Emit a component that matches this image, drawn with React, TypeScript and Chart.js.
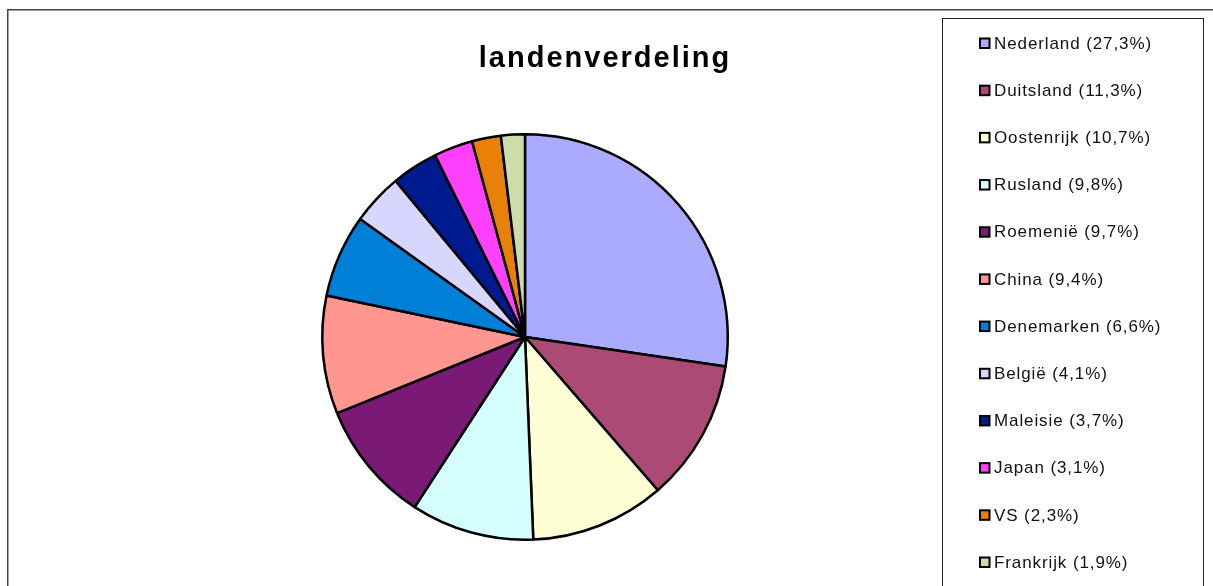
import React, { useEffect, useRef } from "react";
import { Chart, registerables } from "chart.js";

Chart.register(...registerables);

const titleText = "landenverdeling";
const categories = [
  "Nederland",
  "Duitsland",
  "Oostenrijk",
  "Rusland",
  "Roemenië",
  "China",
  "Denemarken",
  "België",
  "Maleisie",
  "Japan",
  "VS",
  "Frankrijk",
];
const shares = [27.3, 11.3, 10.7, 9.8, 9.7, 9.4, 6.6, 4.1, 3.7, 3.1, 2.3, 1.9];
const colors = [
  "#AAAAFF",
  "#AA4A75",
  "#FFFFD6",
  "#D5FFFF",
  "#7B1A76",
  "#FF968F",
  "#007FD6",
  "#D6D6FF",
  "#001A8F",
  "#FF40FF",
  "#E98008",
  "#CCDDAA",
];

const W = 1213;
const H = 586;

const fmt = (v: number) => v.toFixed(1).replace(".", ",");

const framePlugin = {
  id: "frame",
  afterDraw(chart: any) {
    const ctx = chart.ctx;
    ctx.save();
    // outer chart border
    ctx.strokeStyle = "#444444";
    ctx.lineWidth = 1.5;
    ctx.strokeRect(7.75, 9.75, W + 20, H + 20);
    // title
    ctx.fillStyle = "#000000";
    ctx.font = "bold 29px 'Liberation Sans', Arial, sans-serif";
    (ctx as any).letterSpacing = "2px";
    ctx.textAlign = "center";
    ctx.textBaseline = "alphabetic";
    ctx.fillText(titleText, 605, 67);
    // legend box
    ctx.strokeStyle = "#222222";
    ctx.lineWidth = 1;
    ctx.strokeRect(942.5, 18.5, 261, H + 20);
    // legend entries
    const step = (562 - 43) / (categories.length - 1);
    ctx.font = "17px 'Liberation Sans', Arial, sans-serif";
    (ctx as any).letterSpacing = "0.9px";
    ctx.textAlign = "left";
    ctx.textBaseline = "middle";
    categories.forEach((c, i) => {
      const cy = 43 + i * step;
      ctx.fillStyle = colors[i];
      ctx.fillRect(980, cy - 4.5, 9.5, 9.5);
      ctx.strokeStyle = "#000000";
      ctx.lineWidth = 2;
      ctx.strokeRect(980, cy - 4.5, 9.5, 9.5);
      ctx.fillStyle = "#111111";
      ctx.fillText(`${c} (${fmt(shares[i])}%)`, 994, cy + 1);
    });
    ctx.restore();
  },
};

export default function App() {
  const ref = useRef<HTMLCanvasElement | null>(null);
  useEffect(() => {
    if (!ref.current) return;
    const chart = new Chart(ref.current, {
      type: "pie",
      data: {
        labels: categories,
        datasets: [
          {
            data: shares,
            backgroundColor: colors,
            borderColor: "#000000",
            borderWidth: 2.5,
            hoverOffset: 0,
            offset: 0,
          },
        ],
      },
      options: {
        responsive: false,
        animation: false,
        events: [],
        layout: { padding: { left: 321, top: 133, right: 484, bottom: 45 } },
        plugins: {
          legend: { display: false },
          title: { display: false },
          tooltip: { enabled: false },
        },
      },
      plugins: [framePlugin],
    });
    return () => chart.destroy();
  }, []);
  return (
    <div style={{ position: "fixed", left: 0, top: 0, width: W, height: H, background: "#fff" }}>
      <canvas ref={ref} width={W} height={H} style={{ display: "block", width: W, height: H }} />
    </div>
  );
}
